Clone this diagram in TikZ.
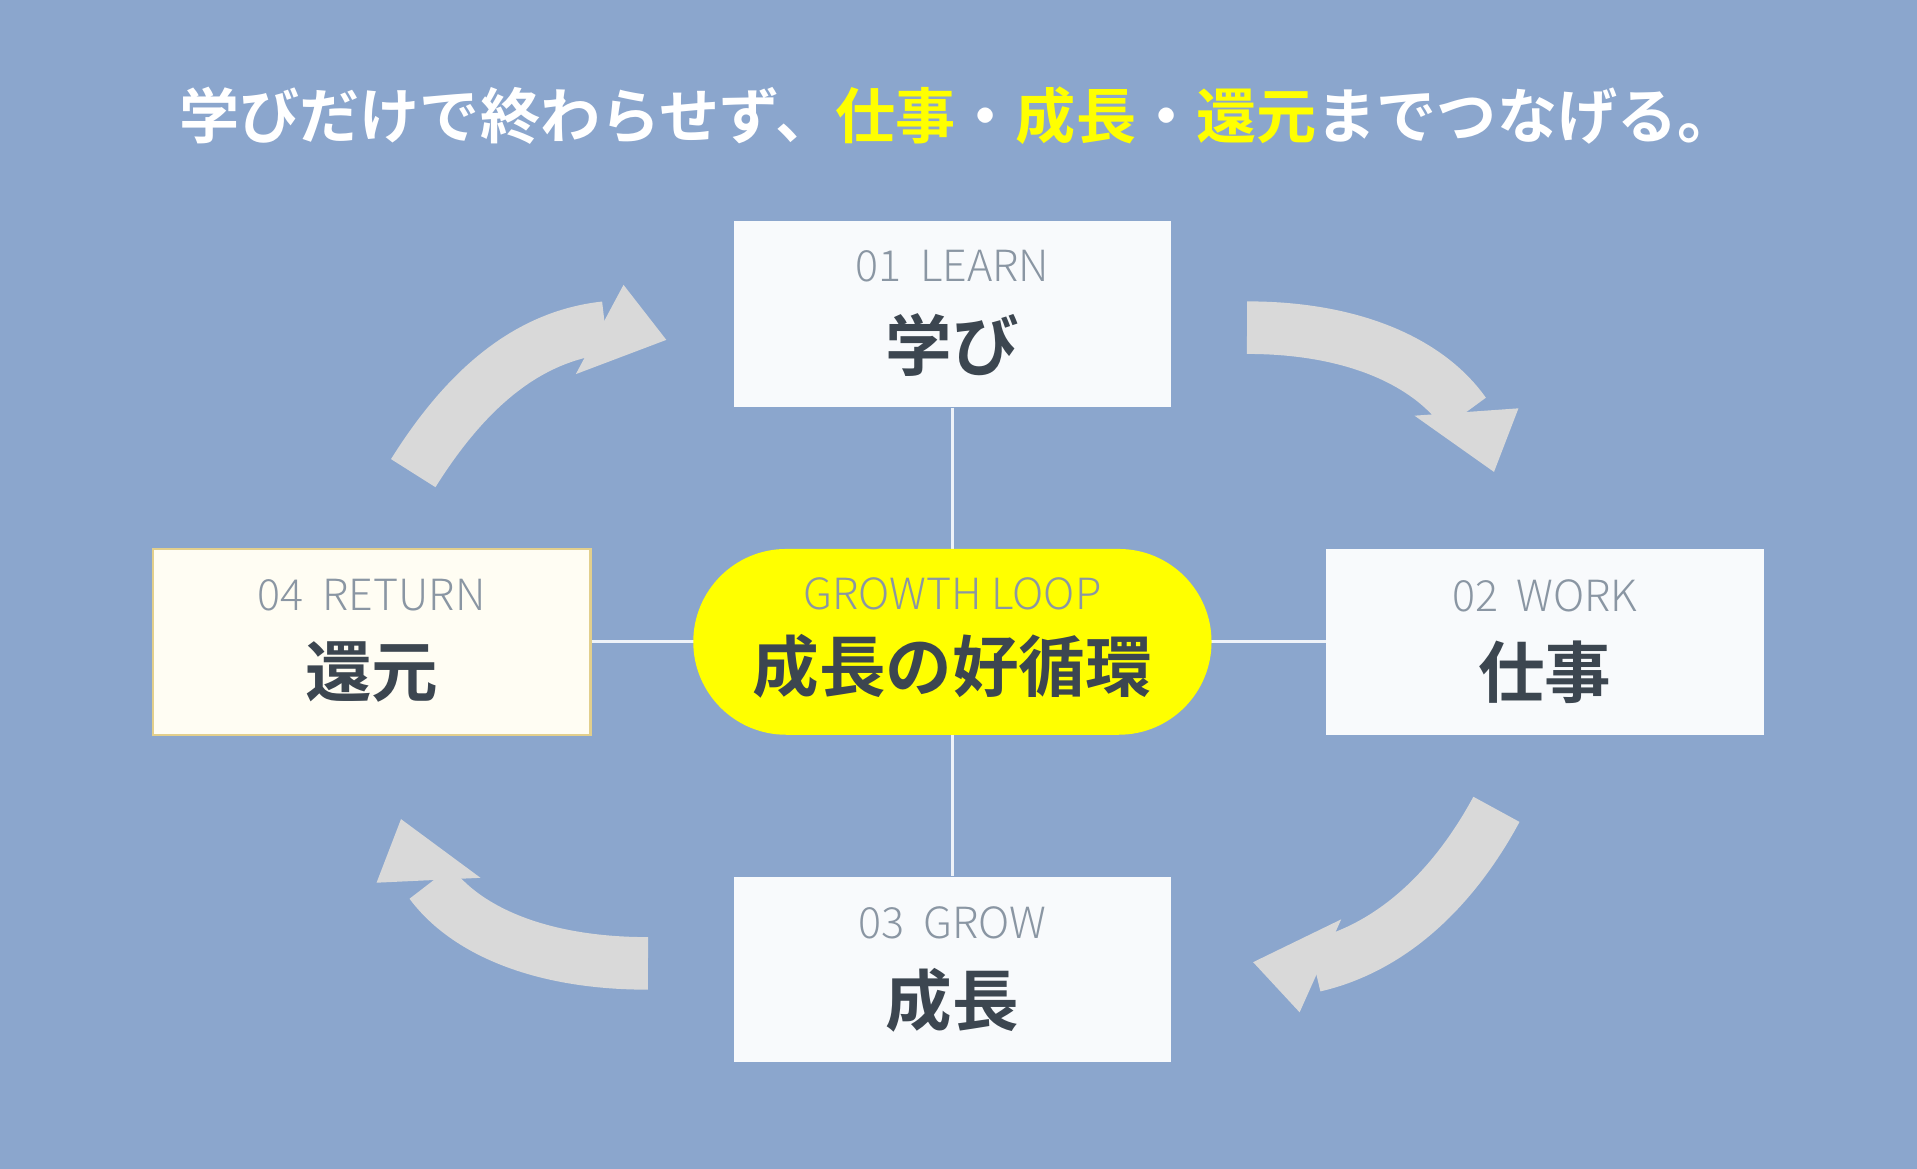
\documentclass[tikz,border=0pt]{standalone}
\usepackage{fontspec}
\setmainfont{Noto Sans CJK JP}
\newfontfamily\jpb{Noto Sans CJK JP Bold}
\newfontfamily\jpl{Noto Sans CJK JP Light}
\definecolor{bg}{HTML}{8BA6CD}
\definecolor{boxw}{HTML}{F8FAFC}
\definecolor{boxc}{HTML}{FFFDF3}
\definecolor{tan}{HTML}{E2CF8C}
\definecolor{lab}{HTML}{8A96A3}
\definecolor{dark}{HTML}{3C4650}
\definecolor{arr}{HTML}{D9D9D9}
\definecolor{yel}{HTML}{FFFF00}
\begin{document}
\begin{tikzpicture}[x=0.02cm,y=-0.02cm,
  box/.style={draw=none,fill=boxw,minimum width=7.16cm,minimum height=3.04cm,inner sep=0},
  lab/.style={text=lab,font=\jpl\fontsize{20}{20}\selectfont},
  big/.style={text=dark,font=\jpb\fontsize{31}{31}\selectfont},
  body/.style={draw=arr,line width=0.86cm},
  head/.style={fill=arr,draw=none}]
\fill[bg] (0,0) rectangle (1568,956);
\useasboundingbox (0,0) rectangle (1568,956);
\node[text=white,font=\jpb\fontsize{28}{28}\selectfont] (title) at (784,95) {学びだけで終わらせず、\textcolor{yel}{仕事}・\textcolor{yel}{成長}・\textcolor{yel}{還元}までつなげる。};
% connectors
\coordinate (c) at (778,525);
\node[box] (b1) at (779,257) {};
\node[box] (b2) at (1263.5,525) {};
\node[box] (b3) at (779,793) {};
\node[box,fill=boxc,draw=tan,line width=1pt] (b4) at (304,525) {};
\draw[white!85!bg,line width=1.5pt] (b1.south) -- (b3.north);
\draw[white!85!bg,line width=1.5pt] (b4.east) -- (b2.west);
\node[fill=yel,rounded corners=1.52cm,minimum width=8.48cm,minimum height=3.04cm,inner sep=0] (ctr) at (779,525) {};
\node[lab] at (779,486) {GROWTH LOOP};
\node[big] at (779,545) {成長の好循環};
\node[lab] at (779,218) {01\ \ LEARN};
\node[big] at (779,282) {学び};
\node[lab] at (1263.5,487) {02\ \ WORK};
\node[big] at (1263.5,550) {仕事};
\node[lab] at (779,755) {03\ \ GROW};
\node[big] at (779,818) {成長};
\node[lab] at (304,487) {04\ \ RETURN};
\node[big] at (304,550) {還元};
% arrows
\draw[body] (1020,268) .. controls (1110,268) and (1170,298) .. (1198,338);
\fill[head] (1157,340) -- (1242,334) -- (1222,386) -- cycle;
\draw[body] (1224,662) .. controls (1190,725) and (1140,775) .. (1075,790);
\fill[head] (1097,752) -- (1063,828) -- (1025,787) -- cycle;
\draw[body] (530,788) .. controls (440,788) and (380,760) .. (352,722);
\fill[head] (393,718) -- (308,722) -- (328,670) -- cycle;
\draw[body] (338,387) .. controls (380,320) and (430,275) .. (495,268);
\fill[head] (510,233) -- (545,278) -- (471,306) -- cycle;
\end{tikzpicture}
\end{document}
